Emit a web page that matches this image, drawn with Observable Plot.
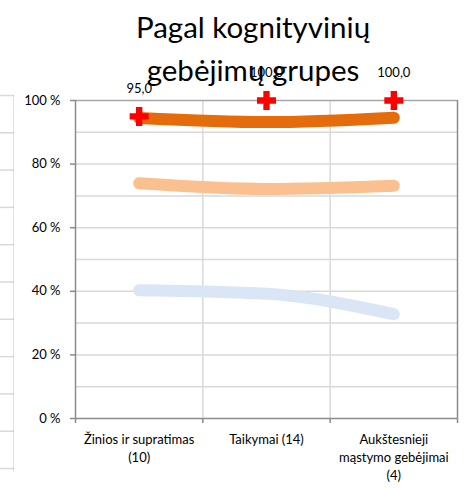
<!DOCTYPE html>
<html>
<head>
<meta charset="utf-8">
<script src="https://cdn.jsdelivr.net/npm/d3@7"></script>
<script src="https://cdn.jsdelivr.net/npm/@observablehq/plot@0.6"></script>
<style>
  html, body { margin: 0; padding: 0; background: #fff; }
  #wrap { position: relative; width: 472px; height: 489px; overflow: hidden; font-family: Lato, "Liberation Sans", sans-serif; }
  #wrap svg { position: absolute; left: 0; top: 0; }
  #title { position: absolute; left: 0; top: 5px; width: 506px; text-align: center; font-size: 29.5px; line-height: 43px; color: #000; z-index: 2; pointer-events: none; }
</style>
</head>
<body>
<div id="wrap">
  <div id="title">Pagal kognityvinių<br>gebėjimų grupes</div>
</div>
<script>
const categories = ["Žinios ir supratimas\n(10)", "Taikymai (14)", "Aukštesnieji\nmąstymo gebėjimai\n(4)"];
const seriesHigh = [94.5, 93.2, 94.6];
const seriesMid = [74.0, 72.2, 73.2];
const seriesLow = [40.3, 39.2, 32.8];
const maxValues = [95.0, 100.0, 100.0];
const yTicks = [0, 20, 40, 60, 80, 100];
const yGrid = [10, 20, 30, 40, 50, 60, 70, 80, 90];
const leftGrid = [0, 1, 2, 3, 4, 5, 6, 7, 8, 9, 10];

const idx = categories.map((c, i) => i);
const rows = (vals, s) => vals.map((v, i) => ({x: i + 0.5, y: v, s}));
const lineRows = [...rows(seriesLow, "low"), ...rows(seriesMid, "mid"), ...rows(seriesHigh, "high")];
const colors = {low: "#DAE6F5", mid: "#FAC090", high: "#E46C0A"};
const maxRows = rows(maxValues, "max");
const fmt = v => v.toFixed(1).replace(".", ",");

const wrap = document.getElementById("wrap");

// fragment of the neighbouring chart at the left edge
const left = Plot.plot({
  width: 14, height: 489,
  marginLeft: 0, marginRight: 0, marginTop: 95, marginBottom: 21,
  x: {domain: [0, 1], axis: null},
  y: {domain: [0, 10], axis: null},
  marks: [
    Plot.ruleY(leftGrid, {y: d => d, x1: 0, x2: 1, stroke: "#d9d9d9", strokeWidth: 1.5}),
    Plot.ruleX([1], {stroke: "#8c8c8c", strokeWidth: 1.5, y1: -0.1, y2: 10})
  ]
});
wrap.appendChild(left);

const chart = Plot.plot({
  width: 472, height: 489,
  marginLeft: 75, marginRight: 15, marginTop: 100, marginBottom: 71,
  style: {fontFamily: "Lato, 'Liberation Sans', sans-serif", background: "transparent", overflow: "visible"},
  x: {domain: [0, 3], axis: null},
  y: {domain: [0, 100], axis: null},
  marks: [
    Plot.ruleY(yGrid, {stroke: "#d9d9d9", strokeWidth: 1.5}),
    Plot.ruleX([1, 2], {stroke: "#d9d9d9", strokeWidth: 1.5}),
    Plot.ruleY([100], {stroke: "#a6a6a6", strokeWidth: 1.5}),
    Plot.ruleX([3], {stroke: "#8c8c8c", strokeWidth: 1.5}),
    Plot.ruleY([0], {stroke: "#8c8c8c", strokeWidth: 1.5}),
    Plot.ruleX([0], {stroke: "#8c8c8c", strokeWidth: 1.5}),
    Plot.axisY({ticks: yTicks, tickSize: 5, tickPadding: 10, tickFormat: d => d + " %", stroke: "#8c8c8c", strokeWidth: 1.5, fill: "#000", fontSize: 13, label: null}),
    Plot.axisX({ticks: [0, 1, 2, 3], tickSize: 5, tickFormat: () => "", stroke: "#8c8c8c", strokeWidth: 1.5, label: null}),
    Plot.text(idx, {x: i => i + 0.5, y: 0, text: i => categories[i], lineAnchor: "top", dy: 13, fontSize: 13, lineHeight: 1.38, fill: "#000"}),
    Plot.line(lineRows, {x: "x", y: "y", z: "s", stroke: d => colors[d.s], strokeWidth: 12, strokeLinecap: "round", strokeLinejoin: "round", curve: "monotone-x"}),
    Plot.dot(maxRows, {x: "x", y: "y", symbol: "cross", r: 8, fill: "#FF0000", stroke: null}),
    Plot.text(maxRows, {x: "x", y: "y", text: d => fmt(d.y), dy: -28, fontSize: 13, fill: "#000"})
  ]
});
wrap.appendChild(chart);
</script>
</body>
</html>
